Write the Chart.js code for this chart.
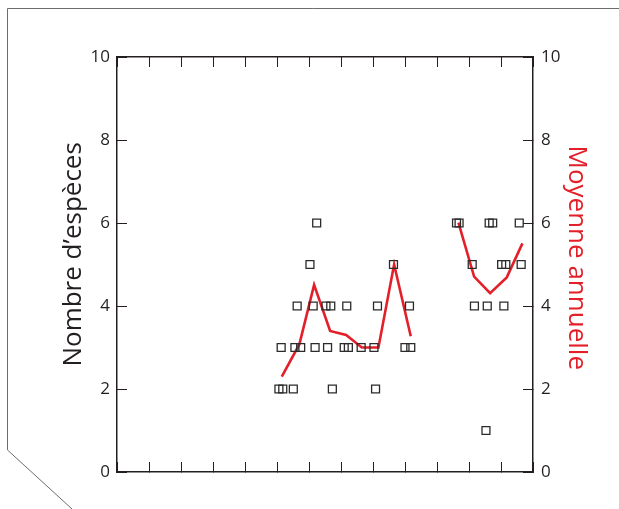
<!DOCTYPE html>
<html>
<head>
<meta charset="utf-8">
<script src="https://cdn.jsdelivr.net/npm/chart.js@4/dist/chart.umd.min.js"></script>
<style>
  html, body { margin: 0; padding: 0; background: #fff; }
  canvas { display: block; }
</style>
</head>
<body>
<canvas id="chart" width="619" height="509"></canvas>
<script>
// Nombre d'espèces observées (carrés) et moyenne annuelle (ligne rouge)
const especesX = [5.06, 5.18, 5.51, 6.73, 8.08,
  5.13, 5.56, 5.74, 6.19, 6.58, 7.10, 7.23, 7.63, 8.03, 9.00, 9.18,
  5.63, 6.13, 6.53, 6.68, 7.18, 8.14, 9.14,
  6.03, 8.64, 6.24,
  10.61, 10.69, 11.63, 11.74, 12.57,
  11.10, 12.02, 12.15, 12.63,
  11.17, 11.57, 12.09,
  11.53]
const especesY = [2, 2, 2, 2, 2,
  3, 3, 3, 3, 3, 3, 3, 3, 3, 3, 3,
  4, 4, 4, 4, 4, 4, 4,
  5, 5, 6,
  6, 6, 6, 6, 6,
  5, 5, 5, 5,
  4, 4, 4,
  1]

const moyenneX1 = [5.15, 5.70, 6.16, 6.66, 7.16, 7.65, 8.17, 8.66, 9.18]
const moyenneY1 = [2.30, 3.08, 4.51, 3.40, 3.30, 3.00, 3.00, 5.00, 3.27]
const moyenneX2 = [10.67, 11.16, 11.66, 12.18, 12.67]
const moyenneY2 = [6.01, 4.71, 4.31, 4.69, 5.51]

const yTicks = [0, 2, 4, 6, 8, 10]

const RED = "#e3202a"
const INK = "#231f20"
const FONT = "'Open Sans', 'Noto Sans', sans-serif"

const points = especesX.map((x, i) => ({ x, y: especesY[i] }))
const moyenne = [
  ...moyenneX1.map((x, i) => ({ x, y: moyenneY1[i] })),
  { x: (moyenneX1[moyenneX1.length - 1] + moyenneX2[0]) / 2, y: null },
  ...moyenneX2.map((x, i) => ({ x, y: moyenneY2[i] }))
]

// cadre gris autour de la figure (trait décoratif)
const frame = {
  id: "frame",
  beforeDraw(chart) {
    const { ctx, width, height } = chart
    ctx.save()
    ctx.strokeStyle = "#6d6d6d"
    ctx.lineWidth = 1
    ctx.beginPath()
    ctx.moveTo(72, height)
    ctx.lineTo(7.5, height - 59)
    ctx.lineTo(7.5, 8.5)
    ctx.lineTo(width, 8.5)
    ctx.stroke()
    ctx.restore()
  }
}

const fixSize = (w, h) => (scale) => {
  if (w != null) scale.width = w
  if (h != null) scale.height = h
}

const xAxis = (position, height) => ({
  type: "linear",
  position,
  min: 0,
  max: 13,
  afterFit: fixSize(null, height),
  ticks: { display: false, stepSize: 1 },
  grid: { drawOnChartArea: false, drawTicks: true, tickLength: -10, color: INK, lineWidth: 1 },
  border: { display: true, color: INK, width: 1.5 }
})

const yAxis = (position, width, title, titleColor, titlePad, tickPad) => ({
  type: "linear",
  position,
  min: 0,
  max: 10,
  afterFit: fixSize(width, null),
  afterBuildTicks: (scale) => { scale.ticks = yTicks.map((v) => ({ value: v })) },
  ticks: { color: INK, padding: tickPad, font: { family: FONT, size: 17 } },
  grid: { drawOnChartArea: false, drawTicks: true, tickLength: -10, color: INK, lineWidth: 1 },
  border: { display: true, color: INK, width: 1.5 },
  title: {
    display: true,
    text: title,
    color: titleColor,
    padding: { top: titlePad, bottom: 0 },
    font: { family: FONT, size: 26 }
  }
})

new Chart(document.getElementById("chart"), {
  type: "scatter",
  data: {
    datasets: [
      {
        label: "Nombre d’espèces",
        data: points,
        xAxisID: "x",
        yAxisID: "y",
        pointStyle: "rect",
        pointRadius: 5.6,
        pointBorderWidth: 1.3,
        pointBorderColor: "#2b2b2b",
        pointBackgroundColor: "rgba(0,0,0,0)"
      },
      {
        label: "Moyenne annuelle",
        data: moyenne,
        xAxisID: "x",
        yAxisID: "y2",
        showLine: true,
        spanGaps: false,
        borderColor: RED,
        borderWidth: 2.6,
        pointRadius: 0,
        tension: 0
      }
    ]
  },
  options: {
    responsive: false,
    devicePixelRatio: 1,
    animation: false,
    layout: { padding: 0 },
    plugins: { legend: { display: false }, tooltip: { enabled: false } },
    scales: {
      x: xAxis("bottom", 37),
      x2: xAxis("top", 57),
      // espaces pour décaler un peu le titre vers le haut, comme sur la figure
      y: yAxis("left", 117, "   Nombre d’espèces", INK, 58, 17),
      y2: yAxis("right", 86, "Moyenne annuelle  ", RED, 27, 18)
    }
  },
  plugins: [frame]
})
</script>
</body>
</html>
